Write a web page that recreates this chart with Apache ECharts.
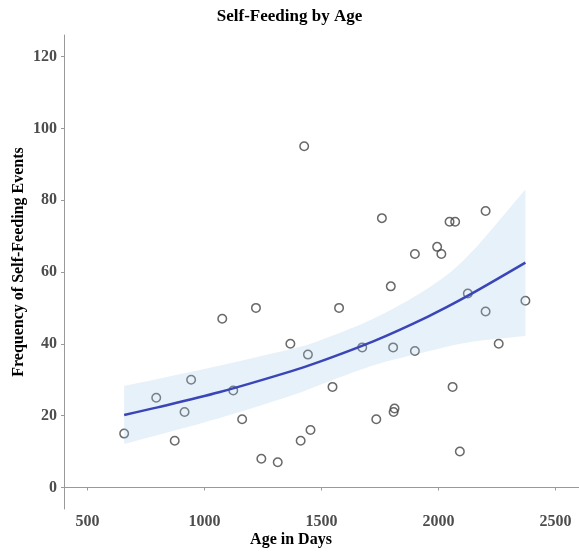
<!DOCTYPE html>
<html>
<head>
<meta charset="utf-8">
<script src="https://cdn.jsdelivr.net/npm/echarts@6/dist/echarts.min.js"></script>
<style>html,body{margin:0;padding:0;background:#fff}#c{width:579px;height:554px}</style>
</head>
<body>
<div id="c"></div>
<script>
// Observed data: age in days and frequency of self-feeding events
const ages   = [657, 794, 873, 915, 943, 1076, 1123, 1161, 1220, 1243, 1313, 1367, 1411, 1426, 1442, 1453, 1547, 1575, 1674, 1734, 1758, 1796, 1806, 1808, 1812, 1899, 1899, 1994, 2012, 2047, 2060, 2071, 2091, 2125, 2201, 2201, 2257, 2371];
const counts = [15, 25, 13, 21, 30, 47, 27, 19, 50, 8, 7, 40, 13, 95, 37, 16, 28, 50, 39, 19, 75, 56, 39, 21, 22, 65, 38, 67, 65, 74, 28, 74, 10, 54, 77, 49, 40, 52];

// Fitted curve and confidence band
const fitX  = [657, 800, 1062, 1372, 1487, 1721, 1955, 2126, 2371];
const fitY  = [20.2, 22.3, 26.5, 32.4, 34.9, 40.7, 47.6, 53.4, 62.6];
const upper = [28.3, 30.2, 33.9, 38.6, 40.8, 47.0, 55.5, 64.5, 83.0];
const lower = [12.1, 14.6, 19.3, 25.6, 28.4, 34.0, 37.9, 40.4, 42.2];

// Tick labels
const xTicks = [500, 1000, 1500, 2000, 2500];
const yTicks = [0, 20, 40, 60, 80, 100, 120];

const FONT = "'Liberation Serif', 'Times New Roman', serif";
const chart = echarts.init(document.getElementById('c'), null, {renderer: 'canvas'});

const pts = ages.map((a, i) => [a, counts[i]]);
const lineData = fitX.map((x, i) => [x, fitY[i]]);

chart.setOption({
  animation: false,
  backgroundColor: '#fff',
  grid: {left: 64, top: 35, width: 517.5, height: 474, containLabel: false},
  xAxis: {
    type: 'value', min: 400, max: 2600,
    axisLine: {show: true, lineStyle: {color: '#999', width: 1}},
    axisTick: {show: true, length: 3, lineStyle: {color: '#999'}, customValues: xTicks},
    axisLabel: {customValues: xTicks, formatter: v => String(v), margin: 5, color: '#4d4d4d', fontFamily: FONT, fontWeight: 'bold', fontSize: 16},
    splitLine: {show: false}
  },
  yAxis: {
    type: 'value', min: -6, max: 126,
    axisLine: {show: true, lineStyle: {color: '#999', width: 1}},
    axisTick: {show: true, length: 3, lineStyle: {color: '#999'}, customValues: yTicks},
    axisLabel: {customValues: yTicks, formatter: v => String(v), margin: 7, color: '#4d4d4d', fontFamily: FONT, fontWeight: 'bold', fontSize: 16},
    splitLine: {show: false}
  },
  graphic: [
    {type: 'text', left: 'center', top: 8, style: {text: 'Self-Feeding by Age', font: "bold 17px " + FONT, fill: '#000'}},
    {type: 'text', x: 291, y: 540, style: {text: 'Age in Days', font: "bold 16px " + FONT, fill: '#000', align: 'center', verticalAlign: 'middle'}},
    {type: 'text', x: 19, y: 262, rotation: Math.PI / 2, style: {text: 'Frequency of Self-Feeding Events', font: "bold 16px " + FONT, fill: '#000', align: 'center', verticalAlign: 'middle'}}
  ],
  series: [
    {
      type: 'scatter', data: pts, z: 1,
      symbol: 'circle', symbolSize: 8.5,
      itemStyle: {color: 'rgba(255,255,255,0)', borderColor: '#444', borderWidth: 1.5}
    },
    {
      type: 'custom', z: 2, silent: true,
      data: [0],
      renderItem: function (params, api) {
        const top = fitX.map((x, i) => api.coord([x, upper[i]]));
        const bot = fitX.map((x, i) => api.coord([x, lower[i]])).reverse();
        const topPts = smoothPts(top), botPts = smoothPts(bot);
        return {
          type: 'polygon',
          shape: {points: topPts.concat(botPts)},
          style: {fill: 'rgba(160,200,230,0.25)'}
        };
      }
    },
    {
      type: 'line', data: lineData, smooth: 0.3, z: 3,
      symbol: 'none', lineStyle: {color: '#3a45b8', width: 2.5}
    }
  ]
});

// Catmull-Rom resampling of pixel points for a smooth band edge
function smoothPts(p) {
  const out = [];
  for (let i = 0; i < p.length - 1; i++) {
    const p0 = p[Math.max(0, i - 1)], p1 = p[i], p2 = p[i + 1], p3 = p[Math.min(p.length - 1, i + 2)];
    for (let t = 0; t < 1; t += 0.1) {
      const t2 = t * t, t3 = t2 * t;
      out.push([0, 1].map(k => 0.5 * ((2 * p1[k]) + (-p0[k] + p2[k]) * t + (2 * p0[k] - 5 * p1[k] + 4 * p2[k] - p3[k]) * t2 + (-p0[k] + 3 * p1[k] - 3 * p2[k] + p3[k]) * t3)));
    }
  }
  out.push(p[p.length - 1]);
  return out;
}
</script>
</body>
</html>
